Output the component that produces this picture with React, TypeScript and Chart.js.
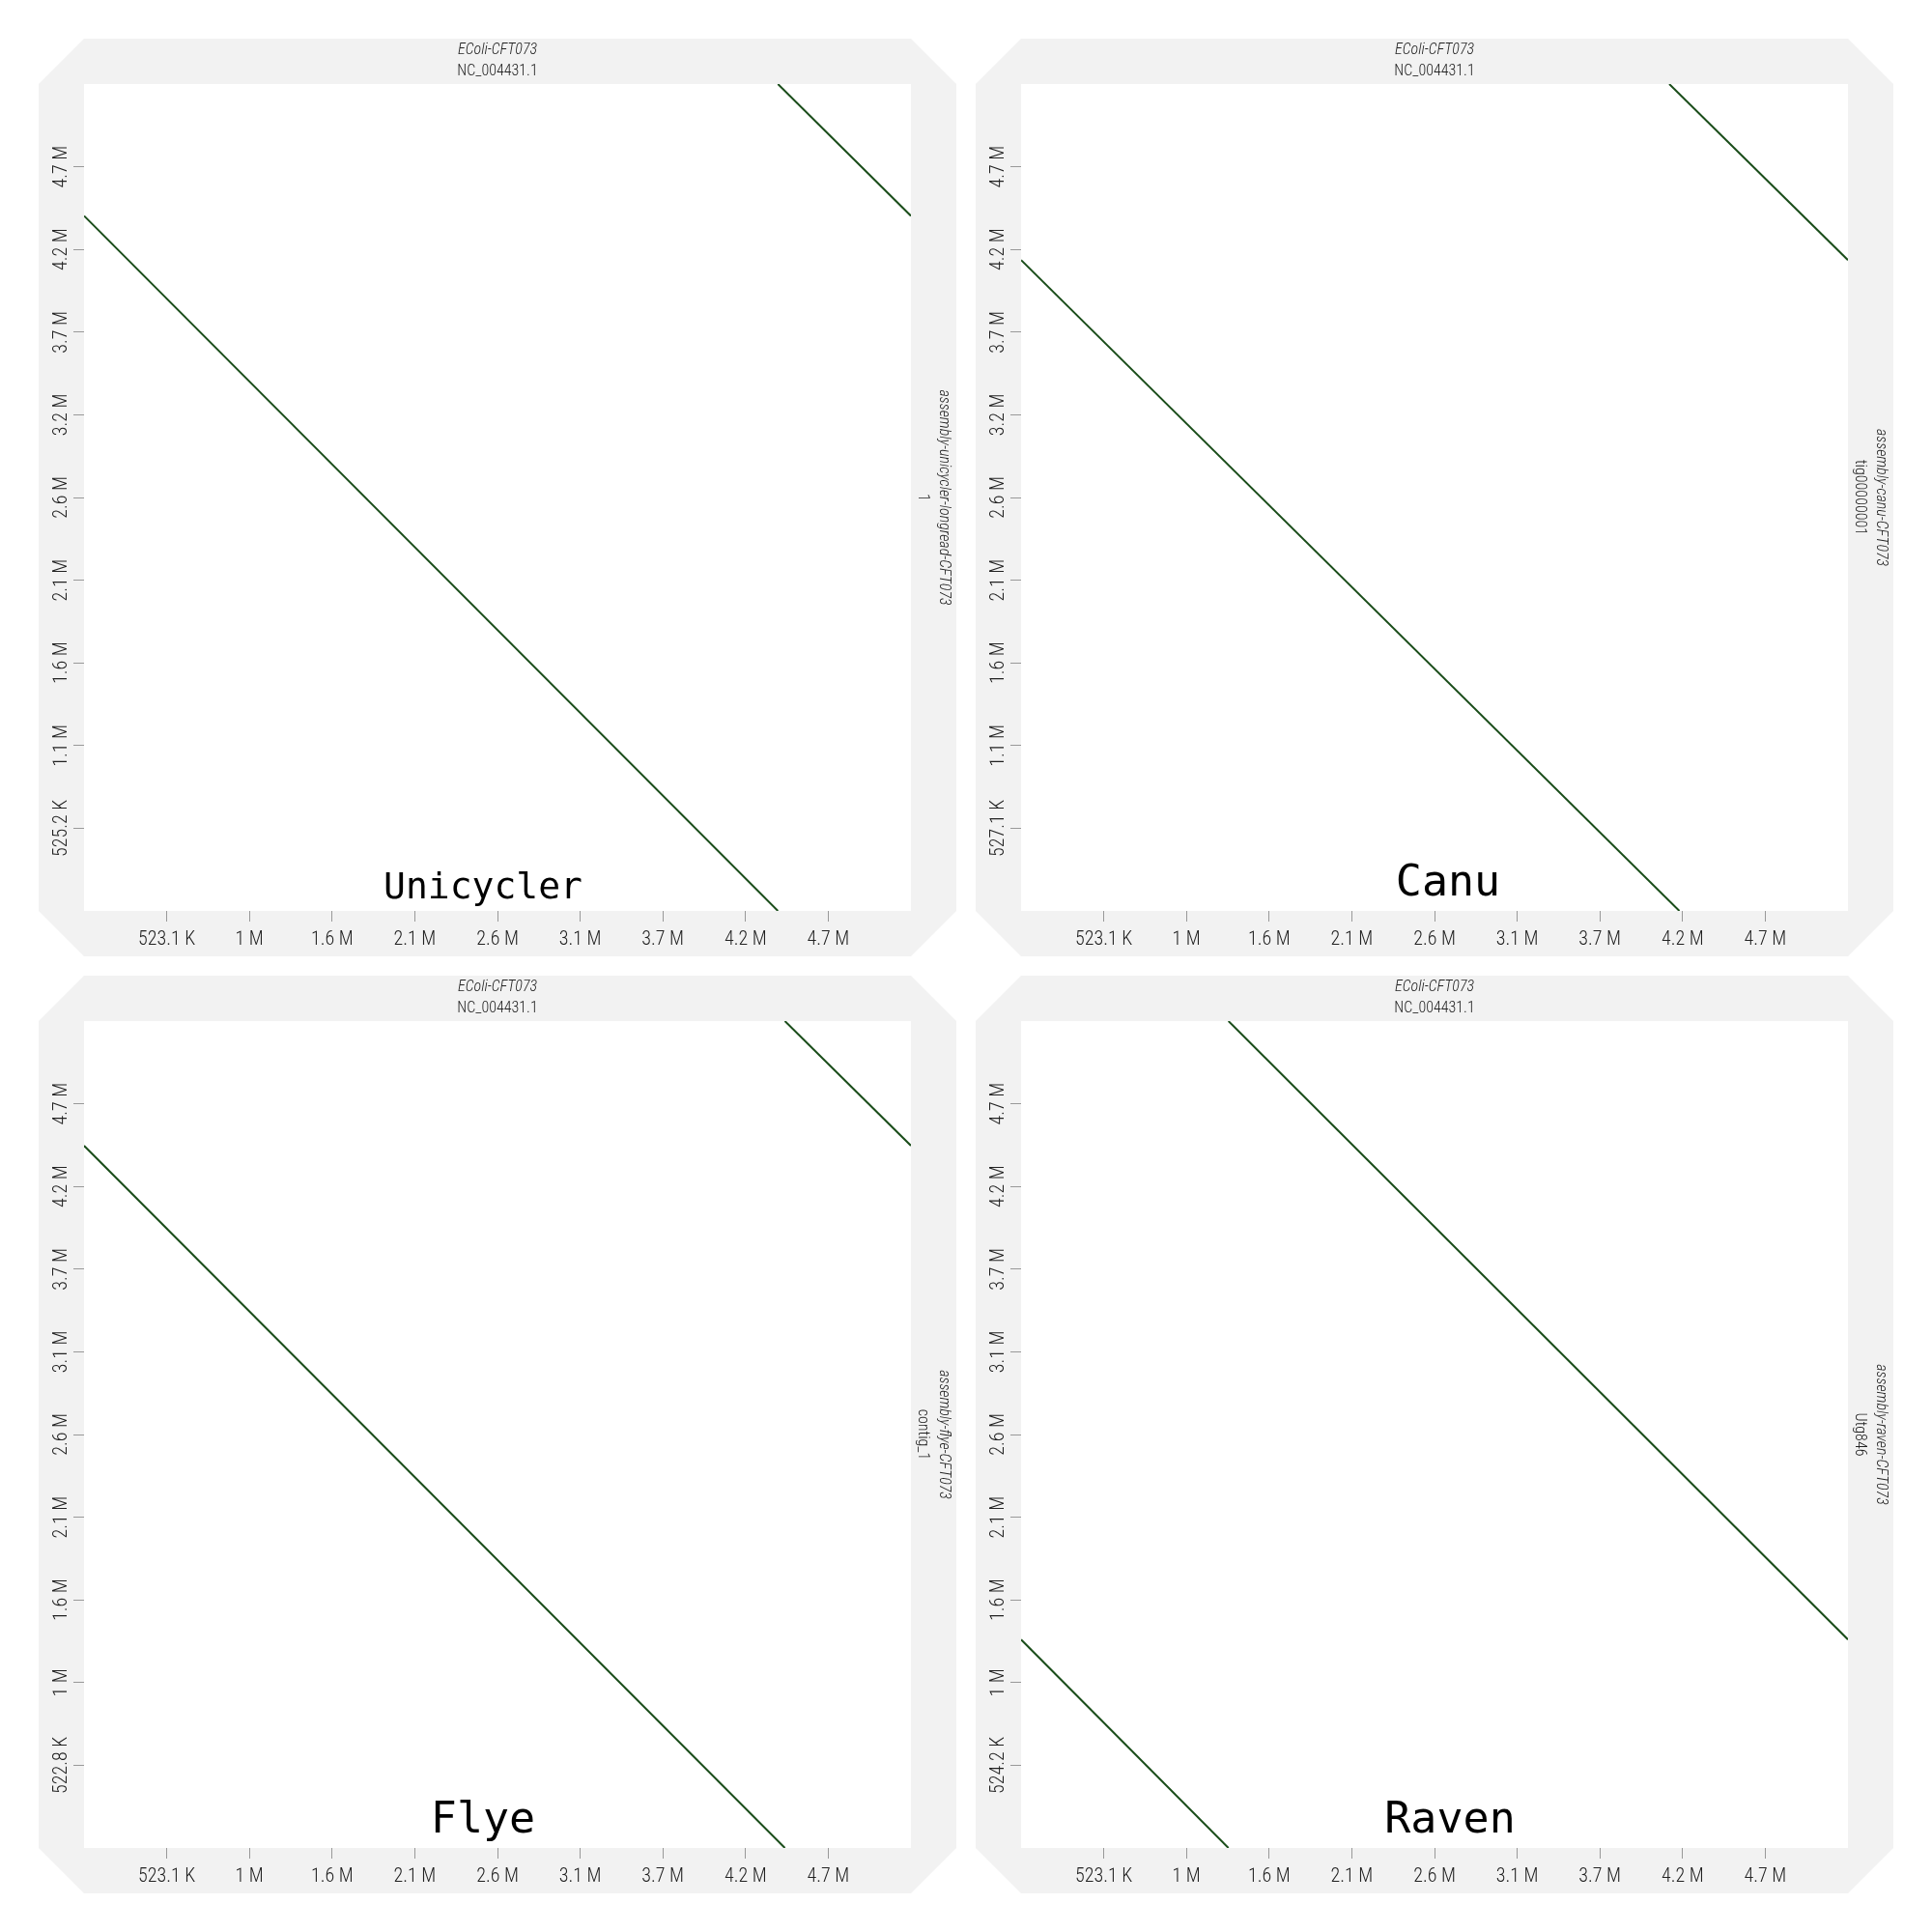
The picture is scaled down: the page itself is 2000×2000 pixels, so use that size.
import React, { useEffect, useRef } from "react";
import { Chart, registerables } from "chart.js";

Chart.register(...registerables);

// ---------------- data ----------------
const referenceName = "EColi-CFT073";
const referenceSeq = "NC_004431.1";
const referenceLength = 5231428;

const assemblerLabels = ["Unicycler", "Canu", "Flye", "Raven"];
const assemblyNames = [
  "assembly-unicycler-longread-CFT073",
  "assembly-canu-CFT073",
  "assembly-flye-CFT073",
  "assembly-raven-CFT073",
];
const contigNames = ["1", "tig00000001", "contig_1", "Utg846"];
const assemblyLengths = [5252000, 5271000, 5228000, 5242000];

const tickFractions = [0.1, 0.2, 0.3, 0.4, 0.5, 0.6, 0.7, 0.8, 0.9];
const xTickLabels = ["523.1 K", "1 M", "1.6 M", "2.1 M", "2.6 M", "3.1 M", "3.7 M", "4.2 M", "4.7 M"];
const yTickLabelsUnicycler = ["525.2 K", "1.1 M", "1.6 M", "2.1 M", "2.6 M", "3.2 M", "3.7 M", "4.2 M", "4.7 M"];
const yTickLabelsCanu = ["527.1 K", "1.1 M", "1.6 M", "2.1 M", "2.6 M", "3.2 M", "3.7 M", "4.2 M", "4.7 M"];
const yTickLabelsFlye = ["522.8 K", "1 M", "1.6 M", "2.1 M", "2.6 M", "3.1 M", "3.7 M", "4.2 M", "4.7 M"];
const yTickLabelsRaven = ["524.2 K", "1 M", "1.6 M", "2.1 M", "2.6 M", "3.1 M", "3.7 M", "4.2 M", "4.7 M"];

// alignment segments: [refStart, asmStart, refEnd, asmEnd]
const unicyclerSegments = [
  [0, 4415000, 4390000, 0],
  [4390000, 5252000, 5231428, 4415000],
];
const canuSegments = [
  [0, 4149000, 4165000, 0],
  [4101000, 5271000, 5231428, 4149000],
];
const flyeSegments = [
  [0, 4440000, 4434000, 0],
  [4434000, 5228000, 5231428, 4440000],
];
const ravenSegments = [
  [0, 1321000, 1312000, 0],
  [1312000, 5242000, 5231428, 1321000],
];

// ---------------- styling ----------------
const PANEL = 950;
const BAND = 47;
const narrowFont = '"Roboto Condensed", "Liberation Sans Narrow", "Arial Narrow", "DejaVu Sans Condensed", sans-serif';
const monoFont = '"DejaVu Sans Mono", monospace';
const TICK_FONT_SIZE = 20;
const TITLE_FONT_SIZE = 16;
const TEXT_COLOR = "#222222";

const panels = [
  { left: 40, top: 40, yLabels: yTickLabelsUnicycler, segments: unicyclerSegments, labelSize: 38, labelX: 460, labelBase: 890 },
  { left: 1010, top: 40, yLabels: yTickLabelsCanu, segments: canuSegments, labelSize: 45, labelX: 489, labelBase: 887 },
  { left: 40, top: 1010, yLabels: yTickLabelsFlye, segments: flyeSegments, labelSize: 45, labelX: 460, labelBase: 887 },
  { left: 1010, top: 1010, yLabels: yTickLabelsRaven, segments: ravenSegments, labelSize: 45, labelX: 491, labelBase: 887 },
];

const decorPlugin = {
  id: "panelDecor",
  beforeDraw(chart: any) {
    const ctx = chart.ctx;
    const W = chart.width;
    const H = chart.height;
    const c = BAND;
    ctx.save();
    ctx.fillStyle = "#f2f2f2";
    ctx.beginPath();
    ctx.moveTo(c, 0);
    ctx.lineTo(W - c, 0);
    ctx.lineTo(W, c);
    ctx.lineTo(W, H - c);
    ctx.lineTo(W - c, H);
    ctx.lineTo(c, H);
    ctx.lineTo(0, H - c);
    ctx.lineTo(0, c);
    ctx.closePath();
    ctx.fill();
    const a = chart.chartArea;
    ctx.fillStyle = "#ffffff";
    ctx.fillRect(a.left, a.top, a.right - a.left, a.bottom - a.top);
    ctx.restore();
  },
  afterDraw(chart: any, _args: any, opts: any) {
    const ctx = chart.ctx;
    const a = chart.chartArea;
    const cx = (a.left + a.right) / 2;
    const cy = (a.top + a.bottom) / 2;
    ctx.save();
    ctx.fillStyle = TEXT_COLOR;
    ctx.textAlign = "center";
    ctx.textBaseline = "middle";
    ctx.font = `italic 300 ${TITLE_FONT_SIZE}px ${narrowFont}`;
    ctx.fillText(referenceName, cx, 12);
    ctx.font = `300 ${TITLE_FONT_SIZE}px ${narrowFont}`;
    ctx.fillText(referenceSeq, cx, 34);

    ctx.save();
    ctx.translate(a.right + 34, cy);
    ctx.rotate(Math.PI / 2);
    ctx.font = `italic 300 ${TITLE_FONT_SIZE}px ${narrowFont}`;
    ctx.fillText(opts.assemblyName, 0, 0);
    ctx.font = `300 ${TITLE_FONT_SIZE}px ${narrowFont}`;
    ctx.fillText(opts.contigName, 0, 22);
    ctx.restore();

    ctx.fillStyle = "#000000";
    ctx.textBaseline = "alphabetic";
    ctx.font = `${opts.labelSize}px ${monoFont}`;
    ctx.fillText(opts.label, opts.labelX, opts.labelBase);
    ctx.restore();
  },
};

function DotPlot({ index }: { index: number }) {
  const ref = useRef<HTMLCanvasElement>(null);
  const p = panels[index];
  useEffect(() => {
    const asmLen = assemblyLengths[index];
    const datasets = p.segments.map((s) => ({
      data: [
        { x: s[0], y: s[1] },
        { x: s[2], y: s[3] },
      ],
      showLine: true,
      borderColor: "#1a4d1a",
      borderWidth: 2,
      pointRadius: 0,
      fill: false,
    }));
    const fitX = (s: any) => {
      s.height = BAND;
      s.paddingLeft = 0;
      s.paddingRight = 0;
      s.paddingTop = 0;
      s.paddingBottom = 0;
    };
    const fitY = (s: any) => {
      s.width = BAND;
      s.paddingLeft = 0;
      s.paddingRight = 0;
      s.paddingTop = 0;
      s.paddingBottom = 0;
    };
    const tickFont = { family: narrowFont, size: TICK_FONT_SIZE, weight: "300" };
    const chart = new Chart(ref.current!, {
      type: "scatter",
      data: { datasets },
      plugins: [decorPlugin],
      options: {
        animation: false,
        responsive: false,
        devicePixelRatio: 1,
        layout: { padding: { top: BAND, right: BAND, left: 0, bottom: 0 } },
        plugins: {
          legend: { display: false },
          tooltip: { enabled: false },
          panelDecor: {
            assemblyName: assemblyNames[index],
            contigName: contigNames[index],
            label: assemblerLabels[index],
            labelSize: p.labelSize,
            labelX: p.labelX,
            labelBase: p.labelBase,
          },
        } as any,
        scales: {
          x: {
            type: "linear",
            position: "bottom",
            min: 0,
            max: referenceLength,
            afterBuildTicks: (s: any) => {
              s.ticks = tickFractions.map((f) => ({ value: f * referenceLength }));
            },
            afterFit: fitX,
            ticks: {
              callback: (_v: any, i: number) => xTickLabels[i],
              font: tickFont,
              color: TEXT_COLOR,
              padding: 7,
              minRotation: 0,
              maxRotation: 0,
              autoSkip: false,
            },
            grid: { drawOnChartArea: false, drawTicks: true, tickLength: 11, tickColor: "#999999", tickWidth: 1 },
            border: { display: false },
          },
          y: {
            type: "linear",
            position: "left",
            min: 0,
            max: asmLen,
            afterBuildTicks: (s: any) => {
              s.ticks = tickFractions.map((f) => ({ value: f * asmLen }));
            },
            afterFit: fitY,
            ticks: {
              callback: (_v: any, i: number) => p.yLabels[i],
              font: tickFont,
              color: TEXT_COLOR,
              padding: -18,
              minRotation: 90,
              maxRotation: 90,
              crossAlign: "center",
              autoSkip: false,
            },
            grid: { drawOnChartArea: false, drawTicks: true, tickLength: 11, tickColor: "#999999", tickWidth: 1 },
            border: { display: false },
          },
        },
      } as any,
    });
    return () => chart.destroy();
  }, []);
  return (
    <canvas
      ref={ref}
      width={PANEL}
      height={PANEL}
      style={{ position: "absolute", left: p.left, top: p.top, width: PANEL, height: PANEL }}
    />
  );
}

export default function App() {
  return (
    <div style={{ position: "absolute", left: 0, top: 0, width: 2000, height: 2000, background: "#ffffff" }}>
      {panels.map((_, i) => (
        <DotPlot key={i} index={i} />
      ))}
    </div>
  );
}
